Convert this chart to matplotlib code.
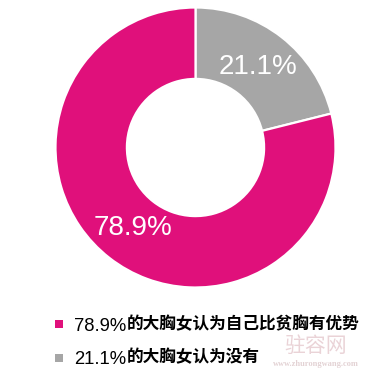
import matplotlib
matplotlib.use("Agg")
import matplotlib.pyplot as plt
from matplotlib.patches import Rectangle

# Data
slice_labels = ["21.1%的大胸女认为没有", "78.9%的大胸女认为自己比贫胸有优势"]
slice_values = [21.1, 78.9]
slice_colors = ["#A6A6A6", "#E0107B"]
legend_order = [1, 0]  # magenta first in legend

W, H = 382, 380
fig = plt.figure(figsize=(W / 100, H / 100), dpi=100)
fig.patch.set_facecolor("white")

cx, cy, R = 195.5, 147.5, 140.0  # pixel coords from top-left
ax = fig.add_axes([(cx - R) / W, (H - cy - R) / H, 2 * R / W, 2 * R / H])
wedges, texts, autotexts = ax.pie(
    slice_values,
    colors=slice_colors,
    startangle=90,
    counterclock=False,
    radius=1.0,
    autopct="%.1f%%",
    pctdistance=0.73,
    wedgeprops=dict(width=0.51, edgecolor="white", linewidth=1.6),
    textprops=dict(color="white", fontsize=20, family=["Liberation Sans", "DejaVu Sans"]),
)
ax.set_xlim(-1, 1)
ax.set_ylim(-1, 1)
ax.set_aspect("equal")
ax.axis("off")

# Legend (manual): number part in a Latin face, Chinese part in a CJK face
renderer = fig.canvas.get_renderer()
sq_centers = [324.0, 358.0]
baselines = [331.0, 363.5]
for k, idx in enumerate(legend_order):
    fig.patches.append(Rectangle((55 / W, (H - sq_centers[k] - 4) / H), 8 / W, 8 / H,
                                 transform=fig.transFigure, facecolor=slice_colors[idx],
                                 edgecolor="none"))
    label = slice_labels[idx]
    cut = label.index("%") + 1
    t1 = fig.text(74 / W, (H - baselines[k]) / H, label[:cut], fontsize=13.3,
                  color="#000000", va="baseline", ha="left",
                  family=["Liberation Sans"])
    bb = t1.get_window_extent(renderer)
    fig.text((bb.x1 + 1) / W, (H - baselines[k] + 1.5) / H, label[cut:], fontsize=12,
             color="#000000", va="baseline", ha="left", weight="bold",
             family=["Noto Sans CJK SC"])

# Watermark
fig.text(316 / W, (H - 345.5) / H, "驻容网", fontsize=15, color="#EAD3D7",
         ha="center", va="center", family=["Noto Sans CJK SC"])
fig.text(316 / W, (H - 364.5) / H, "www.zhurongwang.com", fontsize=6, color="#E3D2D4",
         ha="center", va="center", family=["Liberation Serif"], weight="bold")

fig.savefig("out.png", dpi=100, facecolor="white")
